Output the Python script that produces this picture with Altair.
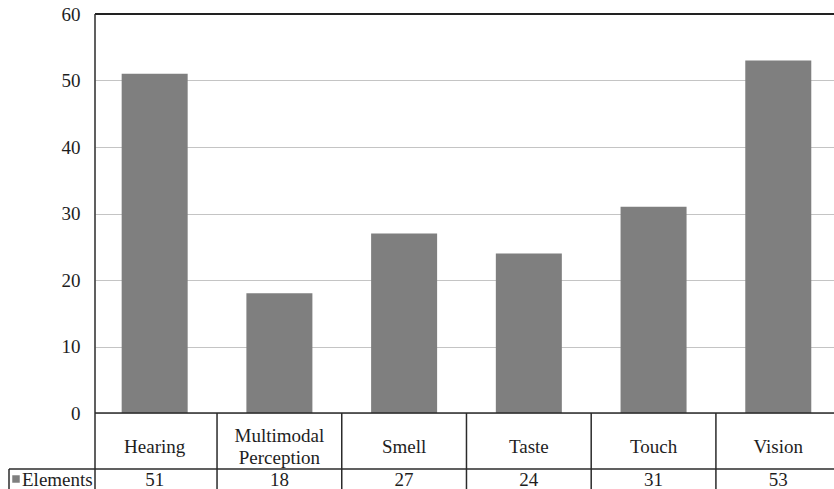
import altair as alt
import pandas as pd

# Chart data
categories = ["Hearing", "Multimodal\nPerception", "Smell", "Taste", "Touch", "Vision"]
elements = [51, 18, 27, 24, 31, 53]
series_name = "Elements"
y_ticks = [0, 10, 20, 30, 40, 50, 60]

# Plot area size (px) and band layout
W, H = 739, 399
P_INNER, P_OUTER, ALIGN = 0.4708, 0.198, 0.54
STEP = W / (len(categories) - P_INNER + 2 * P_OUTER)

FONT = "Liberation Serif"
FS = 19
LH = 22.4
LINE = "#2b2b2b"
TEXT = "#1e1e1e"
BAR = "#7f7f7f"

df = pd.DataFrame({"category": categories, "value": elements})
one = pd.DataFrame({"k": [0]})

x_enc = alt.X(
    "category:N",
    sort=categories,
    scale=alt.Scale(paddingInner=P_INNER, paddingOuter=P_OUTER, align=ALIGN),
    axis=None,
)

base = alt.Chart(df)

bars = base.mark_bar(color=BAR).encode(
    x=x_enc,
    y=alt.Y(
        "value:Q",
        scale=alt.Scale(domain=[0, 60], nice=False),
        axis=alt.Axis(
            values=y_ticks,
            title=None,
            domain=False,
            ticks=False,
            grid=True,
            gridColor="#c4c4c4",
            gridWidth=1.2,
            labelFont=FONT,
            labelFontSize=FS,
            labelColor=TEXT,
            labelPadding=15,
        ),
    ),
)

# frame: top edge, zero line, left edge running down through the table
top_line = alt.Chart(one).mark_rule(color="#222222", strokeWidth=2).encode(y=alt.value(0))
zero_line = alt.Chart(one).mark_rule(color=LINE, strokeWidth=1.5).encode(y=alt.value(H))
left_line = alt.Chart(one).mark_rule(color=LINE, strokeWidth=1.5).encode(
    x=alt.value(0), y=alt.value(0), y2=alt.value(H + 80)
)

# data table below the plot
row_line = alt.Chart(one).mark_rule(color=LINE, strokeWidth=1.5).encode(
    x=alt.value(-86), x2=alt.value(W), y=alt.value(H + 56)
)
legend_left = alt.Chart(one).mark_rule(color=LINE, strokeWidth=1.5).encode(
    x=alt.value(-86), y=alt.value(H + 56), y2=alt.value(H + 80)
)
separators = base.mark_rule(color=LINE, strokeWidth=1.5, xOffset=STEP / 2).encode(
    x=x_enc, y=alt.value(H), y2=alt.value(H + 80)
)

cat_style = dict(font=FONT, fontSize=FS, color=TEXT, baseline="middle", lineBreak="\n", lineHeight=LH)
# one-line category names centred in the header row
cat_text_1 = base.mark_text(**cat_style).transform_filter(
    "indexof(datum.category, '\\n') < 0"
).encode(x=x_enc, y=alt.value(H + 34), text="category:N")
# two-line category names: first line raised by half a line
cat_text_2 = base.mark_text(**cat_style).transform_filter(
    "indexof(datum.category, '\\n') >= 0"
).encode(x=x_enc, y=alt.value(H + 34 - LH / 2), text="category:N")

val_text = base.mark_text(
    font=FONT, fontSize=FS, color=TEXT, baseline="alphabetic"
).encode(x=x_enc, y=alt.value(H + 73), text="value:Q")

legend_swatch = alt.Chart(one).mark_square(color=BAR, size=56, opacity=1).encode(
    x=alt.value(-79), y=alt.value(H + 66)
)
legend_text = alt.Chart(one).mark_text(
    font=FONT, fontSize=FS, color=TEXT, align="left", baseline="alphabetic"
).encode(x=alt.value(-73), y=alt.value(H + 73), text=alt.value(series_name))

chart = (
    alt.layer(
        bars, top_line, zero_line, left_line, row_line, legend_left,
        separators, cat_text_1, cat_text_2, val_text, legend_swatch, legend_text,
    )
    .properties(
        width=W,
        height=H,
        autosize=alt.AutoSizeParams(type="none"),
        padding={"left": 95, "top": 14, "right": 0, "bottom": 76},
    )
    .configure_view(stroke=None)
)

chart.save("out.html", embed_options={"renderer": "svg", "actions": False})
